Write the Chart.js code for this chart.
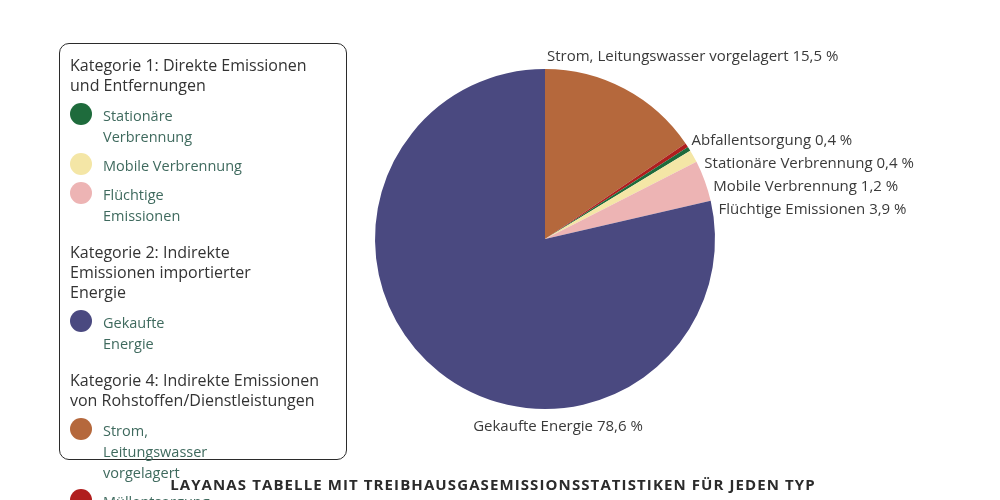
<!DOCTYPE html>
<html><head><meta charset="utf-8">
<script src="https://cdn.jsdelivr.net/npm/chart.js@4"></script>
<style>
body{margin:0;background:#fff;font-family:"Open Sans",sans-serif;}
#wrap{position:relative;width:1000px;height:500px;}
#legend{position:absolute;left:59px;top:43px;width:288px;height:417px;border:1.5px solid #2b2b2b;border-radius:10px;box-sizing:border-box;padding:11px 6px 0 10px;}
.h{color:#333;font-size:16px;line-height:20px;margin:0 0 10px 0;}
.it{display:flex;align-items:flex-start;color:#3f6a5e;font-size:14.5px;line-height:21px;margin-bottom:8px;}
.dot{width:22px;height:22px;border-radius:50%;flex:none;margin-right:11px;margin-top:-2px;}
#title{position:absolute;left:0;width:986px;top:474px;text-align:center;font-weight:bold;font-size:15px;letter-spacing:1.1px;color:#2b2b2b;}
canvas{position:absolute;left:0;top:0;}
</style></head><body>
<div id="wrap">
<canvas id="c" width="1000" height="500"></canvas>
<div id="legend"></div>
<div id="title">LAYANAS TABELLE MIT TREIBHAUSGASEMISSIONSSTATISTIKEN FÜR JEDEN TYP</div>
</div>
<script>
const categories = ['Strom, Leitungswasser vorgelagert', 'Abfallentsorgung', 'Stationäre Verbrennung', 'Mobile Verbrennung', 'Flüchtige Emissionen', 'Gekaufte Energie'];
const values = [15.5, 0.4, 0.4, 1.2, 3.9, 78.6];
const colors = ['#B5683C', '#B01E1E', '#1E6B3C', '#F4E6A6', '#EDB4B4', '#4A4980'];

const legendGroups = [
  {title: 'Kategorie 1: Direkte Emissionen und Entfernungen', items: [['Stationäre Verbrennung', 2], ['Mobile Verbrennung', 3], ['Flüchtige Emissionen', 4]]},
  {title: 'Kategorie 2: Indirekte Emissionen importierter Energie', items: [['Gekaufte Energie', 5]]},
  {title: 'Kategorie 4: Indirekte Emissionen von Rohstoffen/Dienstleistungen', items: [['Strom, Leitungswasser vorgelagert', 0], ['Müllentsorgung', 1]]}
];
const legend = document.getElementById('legend');
legendGroups.forEach((g, gi) => {
  let html = `<div class="h" style="margin-top:${gi ? 16 : 0}px;width:${gi === 1 ? 210 : 262}px">${g.title}</div>`;
  g.items.forEach(([name, ci]) => {
    html += `<div class="it"><span class="dot" style="background:${colors[ci]}"></span><span style="width:${ci === 3 ? 170 : 110}px">${name}</span></div>`;
  });
  legend.innerHTML += html;
});

// draw slice labels next to the pie
const sliceLabels = {
  id: 'sliceLabels',
  afterDraw(chart) {
    const ctx = chart.ctx;
    const arcs = chart.getDatasetMeta(0).data;
    ctx.save();
    ctx.font = '15px "Open Sans", sans-serif';
    ctx.fillStyle = '#3a3a3a';
    ctx.textBaseline = 'middle';
    let lastY = -1e9;
    arcs.forEach((a, i) => {
      const txt = `${categories[i]} ${values[i].toString().replace('.', ',')} %`;
      const mid = (a.startAngle + a.endAngle) / 2;
      const r = a.outerRadius;
      if (values[i] > 50) {
        ctx.textAlign = 'center';
        ctx.fillText(txt, a.x + 13, a.y + r + 18);
      } else if (values[i] > 10) {
        ctx.textAlign = 'left';
        ctx.fillText(txt, a.x + 2, a.y - r - 12);
      } else {
        const R = r + 8;
        let y = a.y + R * Math.sin(mid);
        if (y < lastY + 23) y = lastY + 23;
        lastY = y;
        const dy = y - a.y;
        const x = a.x + Math.sqrt(Math.max(0, R * R - dy * dy)) - 2;
        ctx.textAlign = 'left';
        ctx.fillText(txt, x, y);
      }
    });
    ctx.restore();
  }
};

new Chart(document.getElementById('c'), {
  type: 'pie',
  data: {labels: categories, datasets: [{data: values, backgroundColor: colors, borderWidth: 0}]},
  options: {
    responsive: false,
    animation: false,
    layout: {padding: {left: 375, right: 285, top: 69, bottom: 91}},
    plugins: {legend: {display: false}, tooltip: {enabled: false}}
  },
  plugins: [sliceLabels]
});
</script>
</body></html>
